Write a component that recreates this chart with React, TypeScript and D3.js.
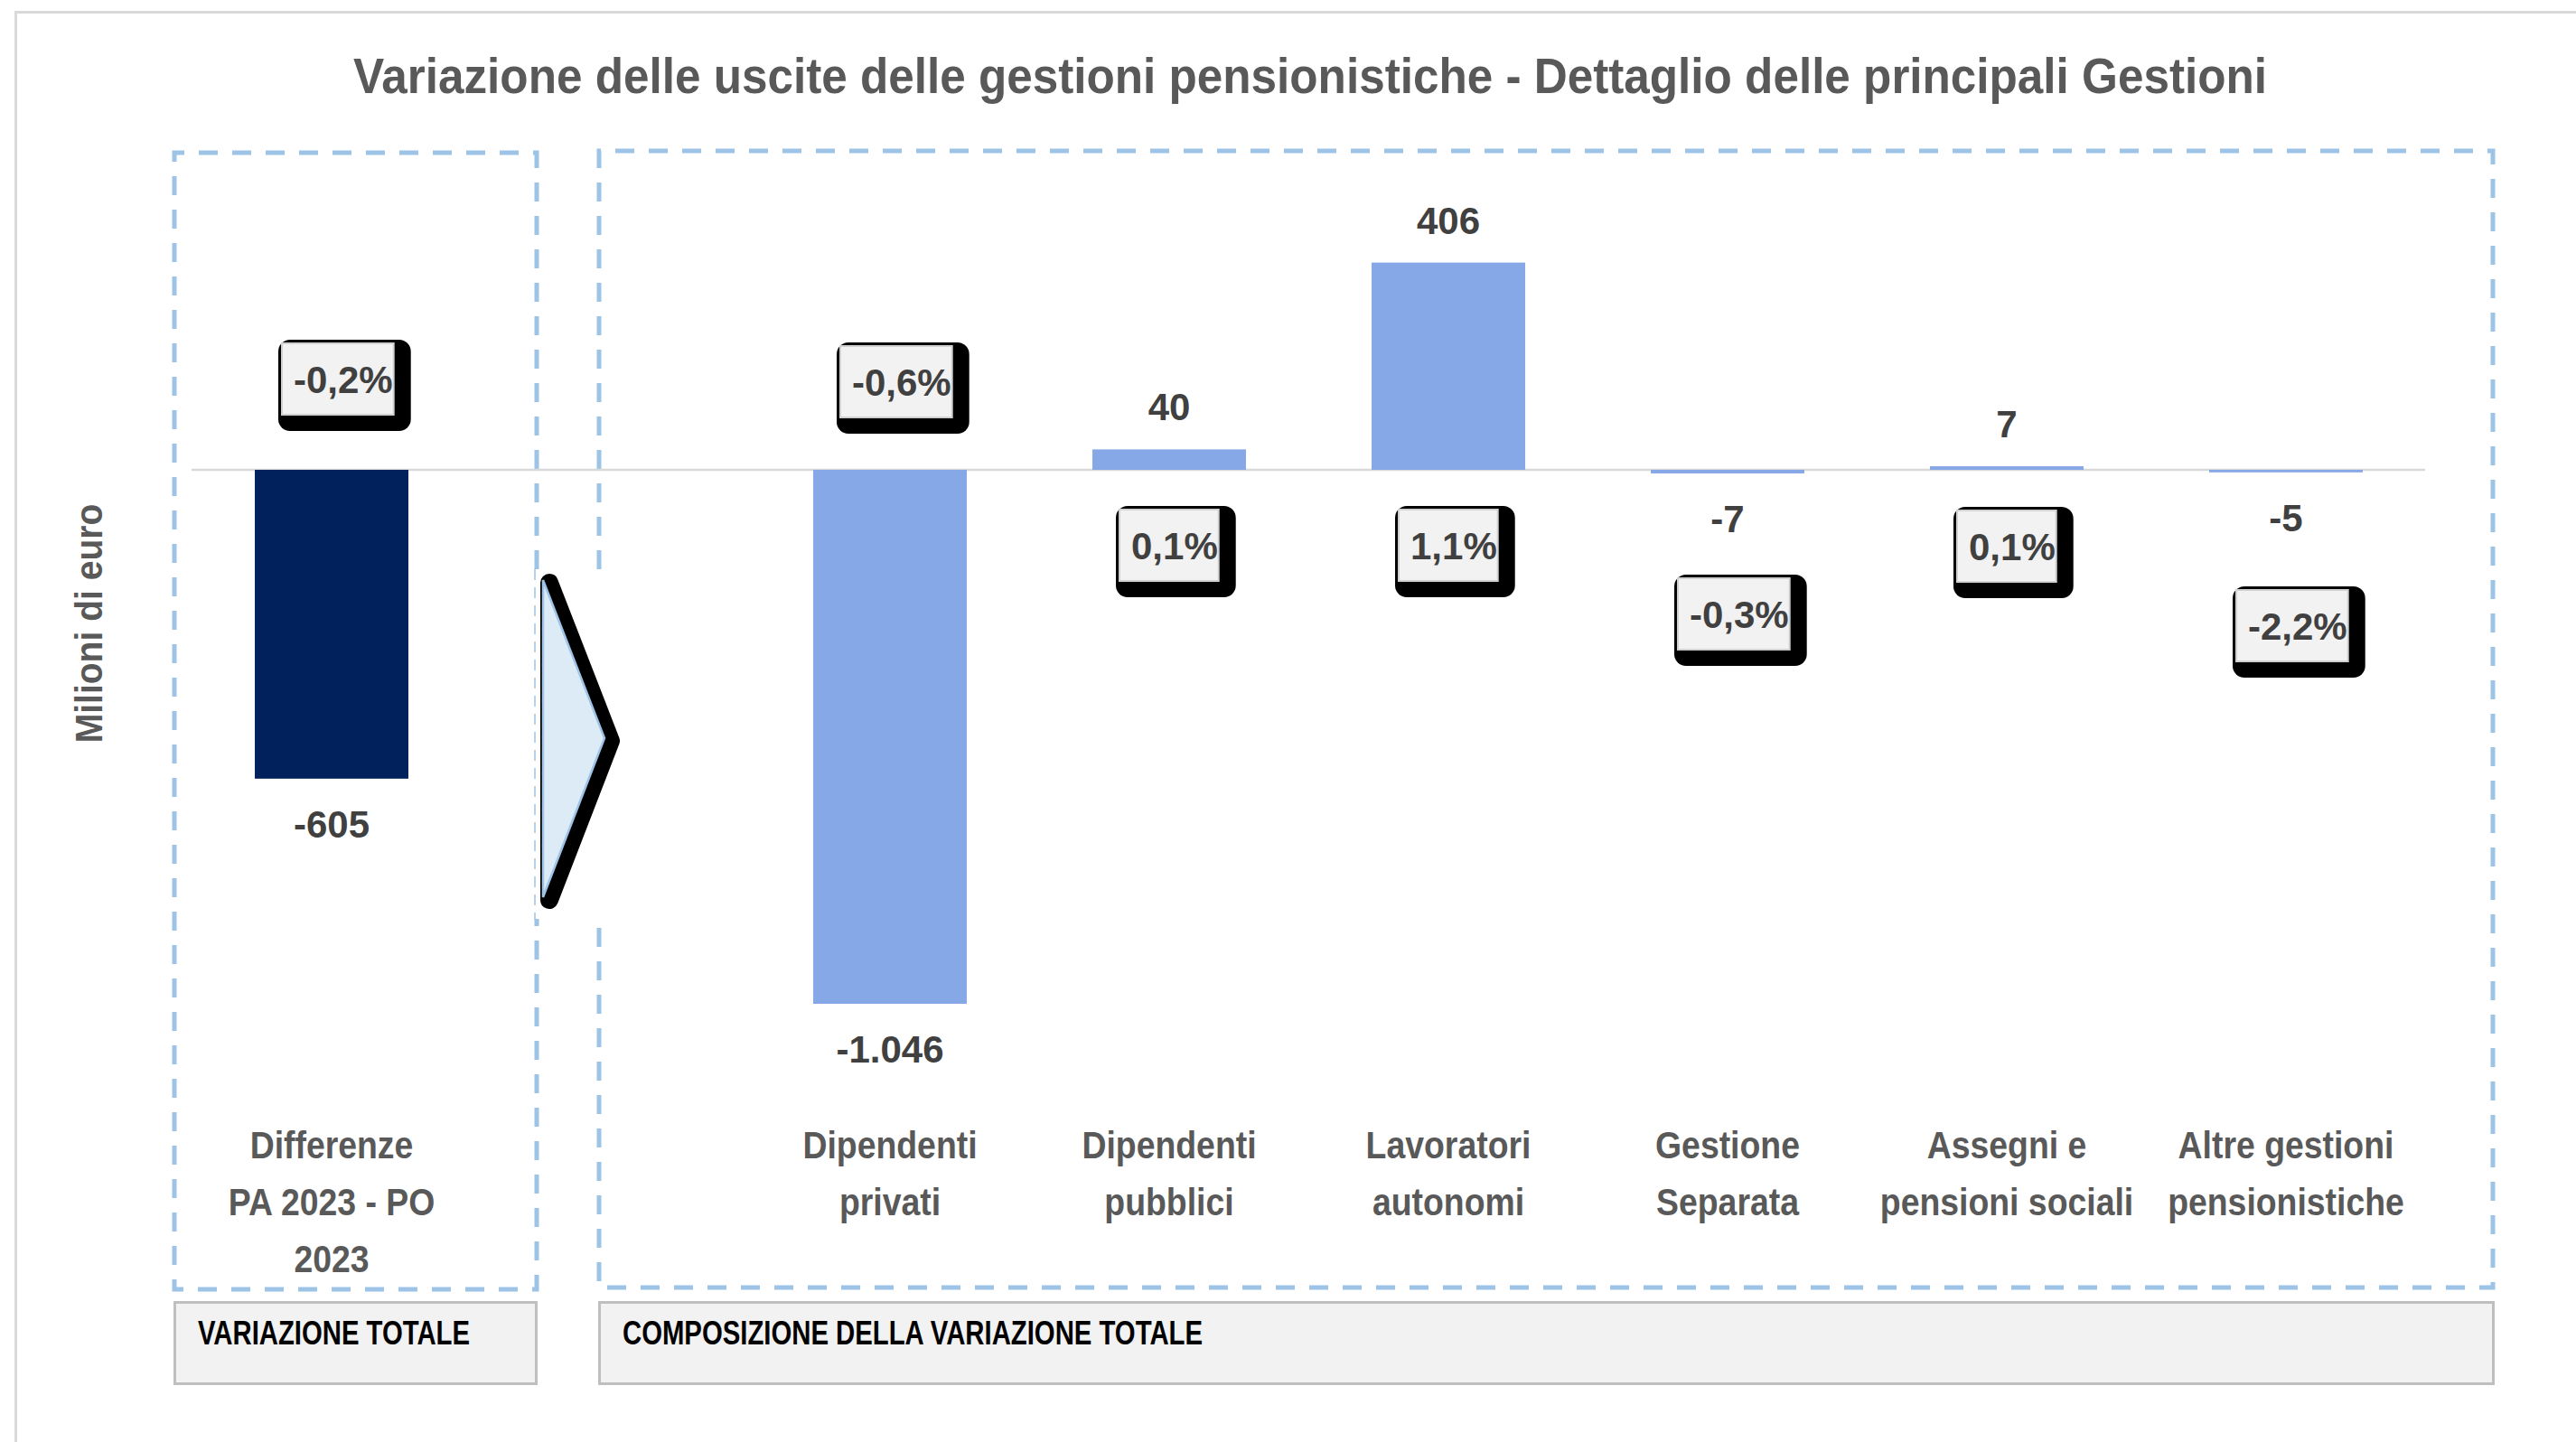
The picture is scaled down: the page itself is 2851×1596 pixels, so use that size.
import React from "react";
import * as d3 from "d3";

// ---------- data ----------
const categoryLines: string[][] = [
  ["Differenze", "PA 2023 - PO", "2023"],
  [],
  ["Dipendenti", "privati"],
  ["Dipendenti", "pubblici"],
  ["Lavoratori", "autonomi"],
  ["Gestione", "Separata"],
  ["Assegni e", "pensioni sociali"],
  ["Altre gestioni", "pensionistiche"],
];
const values: (number | null)[] = [-605, null, -1046, 40, 406, -7, 7, -5];
const pctValues: (number | null)[] = [-0.2, null, -0.6, 0.1, 1.1, -0.3, 0.1, -2.2];
const titleText = "Variazione delle uscite delle gestioni pensionistiche - Dettaglio delle principali Gestioni";
const yAxisTitle = "Milioni di euro";
const headerLeft = "VARIAZIONE TOTALE";
const headerRight = "COMPOSIZIONE DELLA VARIAZIONE TOTALE";

// ---------- layout ----------
const W = 2851;
const H = 1596;
const pctBoxOffset: (number | null)[] = [-140, null, -137, 44, 44, 120, 45, 133]; // relative to zero line
const FONT = "'Liberation Sans', Arial, Helvetica, sans-serif";

const locale = d3.formatLocale({
  decimal: ",",
  thousands: ".",
  grouping: [3],
  currency: ["", "€"],
  minus: "-",
});
const fmtVal = locale.format(",d");
const fmtPct = (v: number) => locale.format(".1f")(v) + "%";

const charW: Record<string, number> = { "-": 0.333, ",": 0.278, "%": 0.889, ".": 0.278 };
const textWidth = (s: string, size: number) =>
  s.split("").reduce((a, c) => a + (charW[c] ?? 0.556), 0) * size;

export default function App() {
  const x = d3
    .scaleBand<number>()
    .domain(d3.range(values.length))
    .range([212.5, 2684.5])
    .paddingInner(0.45)
    .paddingOuter(0.225);
  const y = d3.scaleLinear().domain([-1100, 500]).range([1141.5, 237.5]);
  const y0 = y(0);
  const bw = x.bandwidth();

  const dashColor = "#9DC3E6";
  const arrow = [
    [601, 642],
    [669, 817],
    [601, 993],
  ];
  const arrowPts = arrow.map((p) => p.join(",")).join(" ");

  return (
    <div style={{ position: "absolute", left: 0, top: 0 }}>
      <svg width={W} height={H} style={{ display: "block", background: "#fff" }} fontFamily={FONT}>
        {/* outer chart border */}
        <rect x={17.5} y={13.5} width={W + 20} height={H + 20} fill="#fff" stroke="#D9D9D9" strokeWidth={3} />

        {/* title */}
        <text
          x={1450}
          y={103}
          textAnchor="middle"
          fontSize={56}
          fontWeight="bold"
          fill="#595959"
          textLength={2118}
          lengthAdjust="spacingAndGlyphs"
        >
          {titleText}
        </text>

        {/* dashed boxes */}
        <path
          d={`M594,630 V169 H193 V1427 H594 V1017`}
          fill="none"
          stroke={dashColor}
          strokeWidth={5}
          strokeDasharray="21 16"
        />
        <path
          d={`M663,630 V167 H2759 V1425 H663 V1017`}
          fill="none"
          stroke={dashColor}
          strokeWidth={5}
          strokeDasharray="21 16"
        />
        <line x1={592} x2={592} y1={630} y2={1018} stroke={dashColor} strokeWidth={1.5} strokeDasharray="12 8" />

        {/* zero line */}
        <line x1={212} x2={2684} y1={y0} y2={y0} stroke="#D9D9D9" strokeWidth={2.5} />

        {/* bars */}
        {values.map((v, i) =>
          v === null ? null : (
            <rect
              key={"b" + i}
              x={x(i)!}
              y={Math.min(y(v), y0)}
              width={bw}
              height={Math.abs(y(v) - y0)}
              fill={i === 0 ? "#00215B" : "#86A8E7"}
            />
          )
        )}

        {/* value labels */}
        {values.map((v, i) =>
          v === null ? null : (
            <text
              key={"v" + i}
              x={x(i)! + bw / 2}
              y={v >= 0 ? y(v) - 32 : y(v) + 65}
              textAnchor="middle"
              fontSize={42}
              fontWeight="bold"
              fill="#404040"
            >
              {fmtVal(v)}
            </text>
          )
        )}

        {/* percent boxes */}
        {pctValues.map((p, i) => {
          if (p === null) return null;
          const label = fmtPct(p);
          const tw = textWidth(label, 42);
          const cx = x(i)! + bw / 2;
          const bx = cx - 55;
          const by = y0 + (pctBoxOffset[i] as number);
          const w = tw + 14;
          const h = 79;
          return (
            <g key={"p" + i}>
              <rect x={bx - 4} y={by - 4} width={w + 23} height={h + 22} rx={13} fill="#000" />
              <rect x={bx} y={by} width={w} height={h} fill="#F2F2F2" stroke="#D0D0D0" strokeWidth={2} />
              <text x={bx + 13} y={by + 55} fontSize={42} fontWeight="bold" fill="#404040">
                {label}
              </text>
            </g>
          );
        })}

        {/* arrow */}
        <polygon
          points={arrowPts}
          transform="translate(7,3)"
          fill="#000"
          stroke="#000"
          strokeWidth={20}
          strokeLinejoin="round"
        />
        <polygon points={arrowPts} fill="#DDEBF7" stroke={dashColor} strokeWidth={2.5} />

        {/* category labels */}
        {categoryLines.map((lines, i) =>
          lines.map((ln, j) => (
            <text
              key={"c" + i + "-" + j}
              transform={`translate(${x(i)! + bw / 2},${1282 + j * 63}) scale(0.89,1)`}
              textAnchor="middle"
              fontSize={42}
              fontWeight="bold"
              fill="#595959"
            >
              {ln}
            </text>
          ))
        )}

        {/* y-axis title */}
        <text
          transform="translate(113,690) rotate(-90) scale(0.93,1)"
          textAnchor="middle"
          fontSize={42}
          fontWeight="bold"
          fill="#595959"
        >
          {yAxisTitle}
        </text>

        {/* bottom headers */}
        <rect x={193.5} y={1441.5} width={400} height={90} fill="#F2F2F2" stroke="#BFBFBF" strokeWidth={3} />
        <rect x={663.5} y={1441.5} width={2096} height={90} fill="#F2F2F2" stroke="#BFBFBF" strokeWidth={3} />
        <text
          x={219}
          y={1488}
          fontSize={36}
          fontWeight="bold"
          fill="#000"
          textLength={301}
          lengthAdjust="spacingAndGlyphs"
        >
          {headerLeft}
        </text>
        <text
          x={689}
          y={1488}
          fontSize={36}
          fontWeight="bold"
          fill="#000"
          textLength={642}
          lengthAdjust="spacingAndGlyphs"
        >
          {headerRight}
        </text>
      </svg>
    </div>
  );
}
